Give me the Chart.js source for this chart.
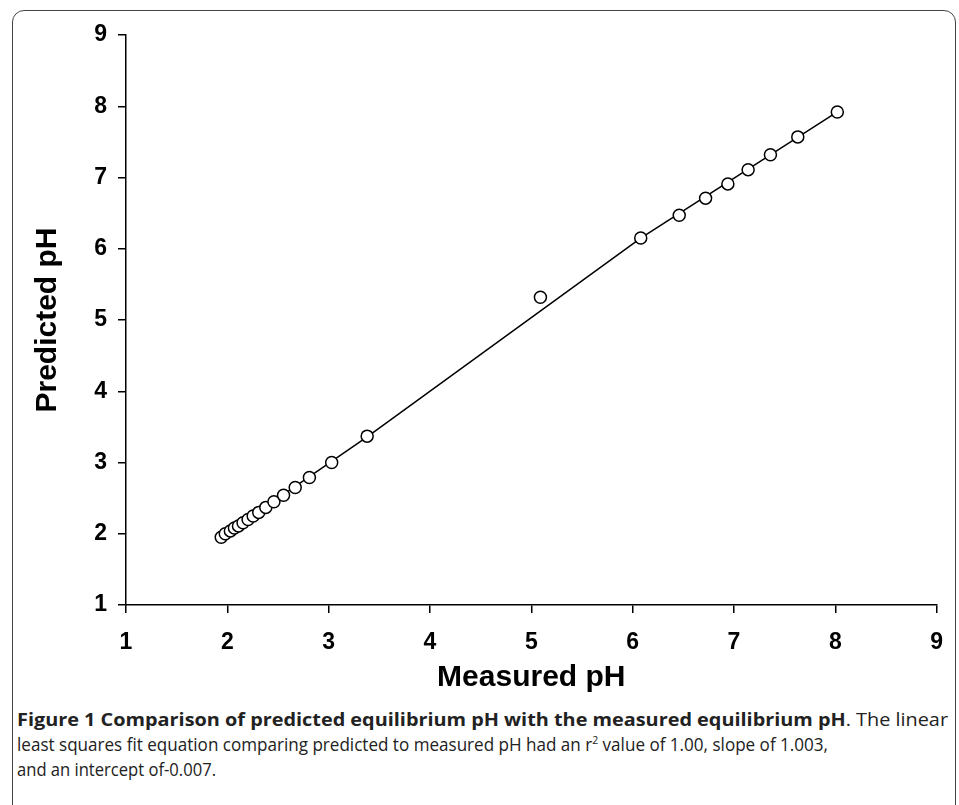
<!DOCTYPE html>
<html>
<head>
<meta charset="utf-8">
<script src="https://cdn.jsdelivr.net/npm/chart.js@4.4.1/dist/chart.umd.min.js"></script>
<style>
  html, body { margin: 0; padding: 0; background: #fff; }
  body { width: 959px; height: 805px; position: relative; overflow: hidden; }
  #frame {
    position: absolute; left: 12px; top: 10px; width: 944px; height: 820px;
    border: 1px solid #444; border-radius: 12px; box-sizing: border-box;
  }
  #wrap { position: absolute; left: 0; top: 0; width: 959px; height: 700px; }
  #caption {
    position: absolute; left: 17px; top: 707px; width: 931px;
    font-family: "Open Sans", sans-serif; font-size: 18px; line-height: 25px; color: #222;
  }
  #caption .ln { display: block; white-space: nowrap; transform-origin: 0 50%; width: max-content; }
  #caption b { font-weight: 700; }
</style>
</head>
<body>
<div id="frame"></div>
<div id="wrap"><canvas id="phChart" width="959" height="700"></canvas></div>
<div id="caption">
  <span class="ln" data-w="931"><b>Figure 1 Comparison of predicted equilibrium pH with the measured equilibrium pH</b>. The linear</span>
  <span class="ln" data-w="811">least squares fit equation comparing predicted to measured pH had an r<sup style="font-size:11px;line-height:0">2</sup> value of 1.00, slope of 1.003,</span>
  <span class="ln" data-w="199">and an intercept of-0.007.</span>
</div>
<script>
// measured vs predicted pH
const measuredPH  = [1.94, 1.98, 2.03, 2.07, 2.11, 2.155, 2.205, 2.255, 2.31, 2.38, 2.46, 2.555, 2.67, 2.81, 3.03, 3.38, 5.09, 6.08, 6.46, 6.72, 6.94, 7.14, 7.36, 7.63, 8.02];
const predictedPH = [1.95, 2.00, 2.04, 2.08, 2.11, 2.155, 2.20, 2.25, 2.30, 2.37, 2.45, 2.54, 2.65, 2.79, 3.00, 3.37, 5.32, 6.15, 6.47, 6.71, 6.91, 7.11, 7.32, 7.57, 7.92];

// fitted line, key points
const fitX = [1.94, 3.38, 6.08, 8.02];
const fitY = [1.95, 3.36, 6.15, 7.92];

const xTicks = [1, 2, 3, 4, 5, 6, 7, 8, 9];
const yTicks = [1, 2, 3, 4, 5, 6, 7, 8, 9];

// squeeze caption lines to the widths in the figure
document.querySelectorAll('#caption .ln').forEach(el => {
    const w = el.getBoundingClientRect().width;
    el.style.transform = 'scaleX(' + (el.dataset.w / w) + ')';
});

const pts = measuredPH.map((x, i) => ({x: x, y: predictedPH[i]}));
const fit = fitX.map((x, i) => ({x: x, y: fitY[i]}));

const axisFont = {family: '"Liberation Sans", Arial, sans-serif', size: 23, weight: 'bold'};
const titleFont = {family: '"Liberation Sans", Arial, sans-serif', size: 30, weight: 'bold'};

const ctx = document.getElementById('phChart').getContext('2d');
new Chart(ctx, {
    type: 'scatter',
    data: {
        datasets: [{
            label: 'Data',
            data: pts,
            pointRadius: 6,
            pointBorderWidth: 1.5,
            pointBorderColor: '#000',
            pointBackgroundColor: '#fff',
            showLine: false,
            order: 0
        }, {
            label: 'Fit',
            data: fit,
            showLine: true,
            borderColor: '#000',
            borderWidth: 1.5,
            pointRadius: 0,
            order: 1
        }]
    },
    options: {
        responsive: false,
        animation: false,
        layout: {padding: {left: 12, right: 22, top: 35, bottom: 0}},
        plugins: {legend: {display: false}, tooltip: {enabled: false}},
        scales: {
            x: {
                type: 'linear', min: 1, max: 9,
                afterBuildTicks: s => { s.ticks = xTicks.map(v => ({value: v})); },
                afterFit: s => { s.height = 95; },
                border: {color: '#000', width: 1.5},
                grid: {drawOnChartArea: false, drawTicks: true, tickLength: 8, color: '#000', lineWidth: 1.5},
                ticks: {color: '#000', font: axisFont, padding: 16, maxRotation: 0},
                title: {display: true, text: 'Measured pH', color: '#000', font: titleFont, padding: {top: 0, bottom: 4}}
            },
            y: {
                type: 'linear', min: 1, max: 9,
                afterBuildTicks: s => { s.ticks = yTicks.map(v => ({value: v})); },
                afterFit: s => { s.width = 114; },
                border: {color: '#000', width: 1.5},
                grid: {drawOnChartArea: false, drawTicks: true, tickLength: 8, color: '#000', lineWidth: 1.5},
                ticks: {color: '#000', font: axisFont, padding: 11},
                title: {display: true, text: 'Predicted pH', color: '#000', font: titleFont, padding: {top: 18, bottom: 0}}
            }
        }
    }
});
</script>
</body>
</html>
